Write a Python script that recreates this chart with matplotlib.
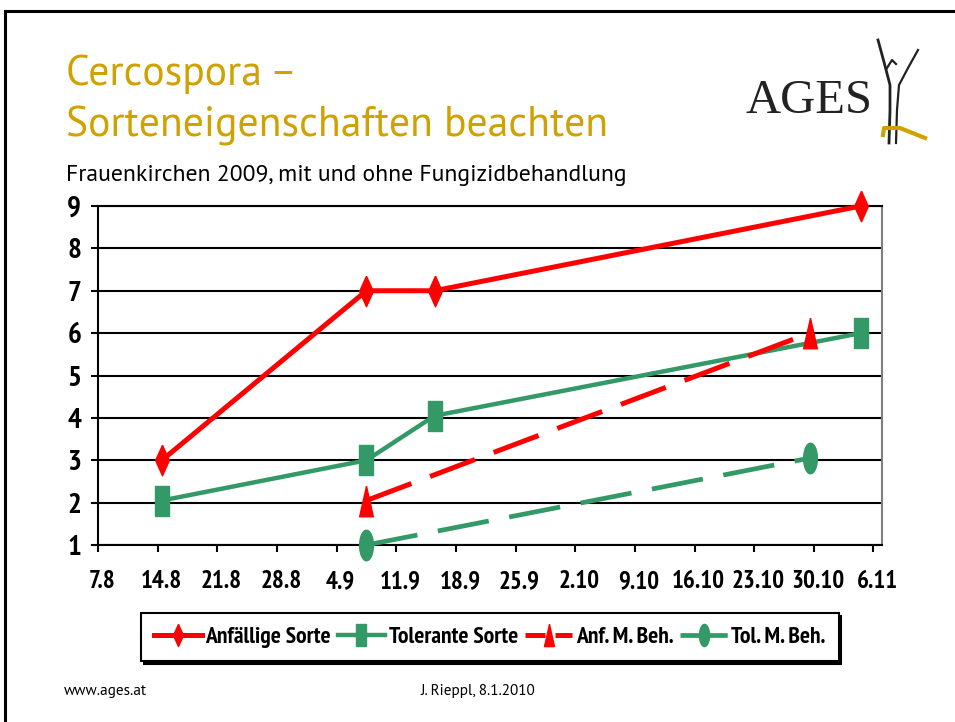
import numpy as np
import pandas as pd
import matplotlib
matplotlib.use("Agg")
import matplotlib.pyplot as plt
import matplotlib.dates as mdates
from matplotlib.lines import Line2D
from matplotlib.transforms import ScaledTranslation
from matplotlib import font_manager

# ─────────────────────────────────────────────
# DATA
# ─────────────────────────────────────────────

tick_dates = ["2009-08-07", "2009-08-14", "2009-08-21", "2009-08-28", "2009-09-04",
              "2009-09-11", "2009-09-18", "2009-09-25", "2009-10-02", "2009-10-09",
              "2009-10-16", "2009-10-23", "2009-10-30", "2009-11-06"]
tick_labels = ["7.8", "14.8", "21.8", "28.8", "4.9", "11.9", "18.9", "25.9",
               "2.10", "9.10", "16.10", "23.10", "30.10", "6.11"]
y_ticks = [1, 2, 3, 4, 5, 6, 7, 8, 9]

anf_dates = ["2009-08-14", "2009-09-07", "2009-09-15", "2009-11-04"]
anf_vals  = [3, 7, 7, 9]
tol_dates = ["2009-08-14", "2009-09-07", "2009-09-15", "2009-11-04"]
tol_vals  = [2.05, 3, 4.05, 6.0]
anf_beh_dates = ["2009-09-07", "2009-10-29"]
anf_beh_vals  = [2.05, 6.0]
tol_beh_dates = ["2009-09-07", "2009-10-29"]
tol_beh_vals  = [1.0, 3.05]

series_names = ["Anfällige Sorte", "Tolerante Sorte", "Anf. M. Beh.", "Tol. M. Beh."]

RED   = "#FF0000"
GREEN = "#339966"
GOLD  = "#CFA200"

# pick a narrow bold face for the chart texts (Arial Narrow look-alike)
installed = {}
for f in font_manager.fontManager.ttflist:
    installed.setdefault(f.name, set()).add(f.weight)
NARROW_CANDIDATES = ["Arial Narrow", "Liberation Sans Narrow", "PT Sans Narrow",
                     "Archivo Narrow", "Roboto Condensed", "Pragati Narrow",
                     "Open Sans Condensed", "Encode Sans Condensed", "Asap Condensed",
                     "Barlow Condensed", "IBM Plex Sans Condensed", "Fira Sans Condensed"]
NARROW = "DejaVu Sans"
for name in NARROW_CANDIDATES:
    if name in installed and any(w >= 600 for w in installed[name] if isinstance(w, int)):
        NARROW = name
        break
TITLE_CANDIDATES = ["Tahoma", "PT Sans", "Liberation Sans"]
TITLE = next(n for n in TITLE_CANDIDATES if n in installed)

# tall markers (the slide is squeezed horizontally)
DIAMOND  = [(0, 1), (0.45, 0), (0, -1), (-0.45, 0), (0, 1)]
RECT     = [(-0.45, -1), (0.45, -1), (0.45, 1), (-0.45, 1), (-0.45, -1)]
TRIANGLE = [(0, 1), (0.45, -1), (-0.45, -1), (0, 1)]
t = np.linspace(0, 2 * np.pi, 40)
ELLIPSE  = list(zip(0.45 * np.cos(t), np.sin(t)))

DAY_CENTER = pd.Timedelta(hours=12)


def to_x(dates):
    return mdates.date2num(pd.to_datetime(dates) + DAY_CENTER)


def fx(px):
    return px / 955


def fy(py):
    return 1 - py / 722


fig = plt.figure(figsize=(9.55, 7.22), dpi=100)
ax = fig.add_axes([fx(98), fy(545), fx(882) - fx(98), fy(206) - fy(545)])

# ── series ──────────────────────────────────
ax.plot(to_x(tol_dates), tol_vals, color=GREEN, lw=3.2, marker=RECT, ms=22,
        clip_on=False, zorder=3)
ax.plot(to_x(tol_beh_dates), tol_beh_vals, color=GREEN, lw=3.4, marker=ELLIPSE, ms=22,
        dashes=(11.0, 4.4), clip_on=False, zorder=3)
ax.plot(to_x(anf_beh_dates), anf_beh_vals, color=RED, lw=3.6, marker=TRIANGLE, ms=22,
        dashes=(9.6, 4.0), clip_on=False, zorder=3.5)
ax.plot(to_x(anf_dates), anf_vals, color=RED, lw=3.6, marker=DIAMOND, ms=22,
        solid_joinstyle="miter", clip_on=False, zorder=4)

# ── axes ────────────────────────────────────
ax.set_xlim(mdates.date2num(pd.Timestamp("2009-08-07")),
            mdates.date2num(pd.Timestamp("2009-11-07")))
ax.set_ylim(1, 9)
ax.set_xticks(mdates.date2num(pd.to_datetime(tick_dates)))
ax.set_xticklabels(tick_labels, family=NARROW, fontweight="bold", fontsize=18)
ax.set_yticks(y_ticks)
ax.set_yticklabels([str(v) for v in y_ticks], family=NARROW, fontweight="bold", fontsize=21)
ax.tick_params(axis="x", direction="out", length=5, width=1.5, pad=13)
ax.tick_params(axis="y", direction="out", length=5, width=1.5, pad=7)
for lab in ax.get_xticklabels():
    lab.set_transform(lab.get_transform() + ScaledTranslation(4 / 100, 0, fig.dpi_scale_trans))

ax.grid(axis="y", color="black", lw=1.5)
ax.set_axisbelow(True)
for side in ["left", "bottom", "top"]:
    ax.spines[side].set_color("black")
    ax.spines[side].set_linewidth(1.5)
ax.spines["right"].set_color("#7f7f7f")
ax.spines["right"].set_linewidth(1.5)

# ── legend ──────────────────────────────────
handles = [
    Line2D([], [], color=RED, lw=3.6, marker=DIAMOND, ms=16),
    Line2D([], [], color=GREEN, lw=3.2, marker=RECT, ms=16),
    Line2D([], [], color=RED, lw=3.6, marker=TRIANGLE, ms=16, dashes=(4, 2)),
    Line2D([], [], color=GREEN, lw=3.4, marker=ELLIPSE, ms=16, dashes=(4, 2)),
]
leg = fig.legend(handles, series_names, loc="center", bbox_to_anchor=(fx(490), fy(637)),
                 ncol=4, frameon=True, fancybox=False,
                 shadow={"color": "black", "alpha": 1},
                 handlelength=2.0, handletextpad=0.15, columnspacing=0.3,
                 borderpad=0.55, prop={"family": NARROW, "weight": "bold", "size": 17})
leg.get_frame().set_edgecolor("black")
leg.get_frame().set_linewidth(1.5)

# ── slide decoration ───────────────────────
fig.add_artist(Line2D([fx(5), fx(5)], [0, fy(11)], color="black", lw=2.2))
fig.add_artist(Line2D([fx(5), 1], [fy(11), fy(11)], color="black", lw=2.2))

fig.text(fx(66), fy(85), "Cercospora –", color=GOLD, fontsize=30, family=TITLE)
fig.text(fx(66), fy(136), "Sorteneigenschaften beachten", color=GOLD, fontsize=30,
         family=TITLE)
fig.text(fx(66), fy(181), "Frauenkirchen 2009, mit und ohne Fungizidbehandlung",
         fontsize=17, family=TITLE)

# AGES logo (rough)
fig.text(fx(745), fy(113), "AGES", fontsize=35, family="Liberation Serif", color="#222222")
fig.add_artist(Line2D([fx(878), fx(884), fx(890), fx(890), fx(889)],
                      [fy(40), fy(62), fy(85), fy(110), fy(143)], color="#222222", lw=2.0))
fig.add_artist(Line2D([fx(918), fx(908), fx(899), fx(897), fx(896)],
                      [fy(50), fy(68), fy(85), fy(110), fy(143)], color="#222222", lw=1.6))
fig.add_artist(Line2D([fx(887), fx(892), fx(896)],
                      [fy(68), fy(60), fy(64)], color="#222222", lw=1.6))
fig.add_artist(Line2D([fx(883), fx(884), fx(900), fx(925)],
                      [fy(135), fy(128), fy(128), fy(138)], color=GOLD, lw=3.0))

fig.text(fx(64), fy(695), "www.ages.at", fontsize=11, family=TITLE)
fig.text(fx(420), fy(695), "J. Rieppl, 8.1.2010", fontsize=11, family=TITLE)

fig.savefig("out.png", dpi=100)
